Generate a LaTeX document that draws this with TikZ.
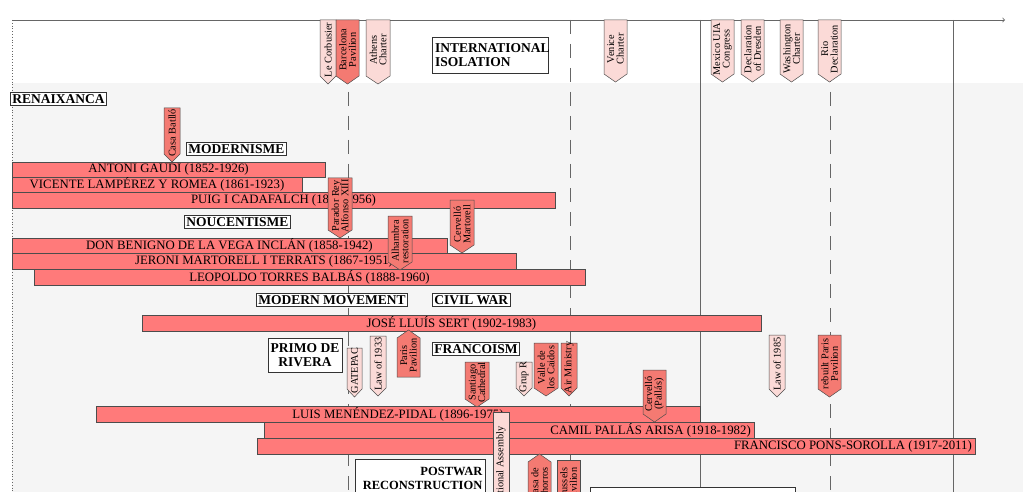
\documentclass[tikz,border=0pt]{standalone}
\usepackage{fontspec}
\setmainfont{Liberation Serif}
\begin{document}
\begin{tikzpicture}[x=1pt,y=-1pt,
  bar/.style={draw=black!70,fill=red!52!white,line width=0.5pt},
  lab/.style={draw=black!80,fill=white,font=\bfseries\fontsize{13.5}{14.5}\selectfont,inner sep=2pt,line width=0.6pt},
  ftext/.style={rotate=90,font=\fontsize{10.3}{9.5}\selectfont,align=center,inner sep=0pt},
  btext/.style={font=\fontsize{12.8}{12.8}\selectfont,inner sep=0pt}]
\definecolor{fred}{HTML}{F47A72}
\definecolor{fpink}{HTML}{FBDAD7}
\useasboundingbox (0,0) rectangle (1023,492);
\fill[white] (0,0) rectangle (1023,492);
\fill[black!4] (12,83) rectangle (1023,492);
\draw[black!60,dotted,line width=0.8pt] (12,20) -- (12,492);
\draw[black!60,line width=0.8pt,->] (12,20) -- (1005,20);
\draw[black!60,dashed,dash pattern=on 14pt off 10pt,line width=0.8pt] (348,20) -- (348,492);
\draw[black!60,dashed,dash pattern=on 14pt off 10pt,line width=0.8pt] (570,20) -- (570,492);
\draw[black!60,dashed,dash pattern=on 14pt off 10pt,line width=0.8pt] (830,20) -- (830,492);
\draw[black!60,line width=0.8pt] (700,20) -- (700,492);
\draw[black!60,line width=0.8pt] (953,20) -- (953,492);
% flags
\newcommand{\fdown}[7]{\draw[draw=black!70,fill=#6,line width=0.5pt] (#2,#4)--(#3,#4)--(#3,#5-8)--({(#2+#3)/2},#5)--(#2,#5-8)--cycle;
 \node[ftext] (#1) at ({(#2+#3)/2},{(#4+#5-4)/2}) {#7};}
\newcommand{\fup}[7]{\draw[draw=black!70,fill=#6,line width=0.5pt] (#2,#5)--(#3,#5)--(#3,#4+8)--({(#2+#3)/2},#4)--(#2,#4+8)--cycle;
 \node[ftext] (#1) at ({(#2+#3)/2},{(#4+#5+4)/2}) {#7};}
\newcommand{\frect}[7]{\draw[draw=black!70,fill=#6,line width=0.5pt] (#2,#4) rectangle (#3,#5);
 \node[ftext] (#1) at ({(#2+#3)/2},{(#4+#5)/2}) {#7};}
\newcommand{\pbar}[6]{\draw[bar] (#2,#4) rectangle (#3,#5); \node[btext] (#1) at ({(#2+#3)/2},{(#4+#5)/2}) {#6};}
\newcommand{\rbar}[6]{\draw[bar] (#2,#4) rectangle (#3,#5); \node[btext,anchor=east] (#1) at ({#3-3},{(#4+#5)/2}) {#6};}
\fdown{lc}{320}{336}{20}{84}{fpink}{Le Corbusier}
\fdown{bp}{336}{359}{20}{84}{fred}{Barcelona\\Pavilion}
\fdown{ac}{366}{390}{20}{84}{fpink}{Athens\\Charter}
\fdown{vc}{604}{627}{20}{82}{fpink}{Venice\\Charter}
\fdown{mx}{711}{734}{20}{82}{fpink}{Mexico UIA\\Congress}
\fdown{dd}{741}{764}{20}{82}{fpink}{Declaration\\of Dresden}
\fdown{wc}{780}{803}{20}{82}{fpink}{Washington\\Charter}
\fdown{rd}{818}{841}{20}{82}{fpink}{Rio\\Declaration}
\node[lab,align=left,minimum width=116pt,minimum height=36pt,text width=110pt] (ii) at (490,55) {INTERNATIONAL\\ISOLATION};
% labels
\node[lab,anchor=west] (ren) at (10,99) {RENAIXANCA};
\node[lab,anchor=west] (mod) at (186,149) {MODERNISME};
\node[lab,anchor=west] (nou) at (184,222) {NOUCENTISME};
\node[lab,anchor=west] (mm) at (256,300) {MODERN MOVEMENT};
\node[lab,anchor=west] (cw) at (432,300) {CIVIL WAR};
\node[lab,align=center,minimum width=74pt,minimum height=34pt] (pr) at (305,355) {PRIMO DE\\RIVERA};
\node[lab,anchor=west] (fr) at (432,349) {FRANCOISM};
\node[lab,align=right,anchor=north west,minimum width=130pt,text width=124pt,inner ysep=1pt,minimum height=38pt,font=\bfseries\fontsize{12.5}{13.5}\selectfont] (pw) at (355,459) {POSTWAR\\RECONSTRUCTION};
\draw[black!80,fill=white,line width=0.6pt] (590,495) -- (590,487) -- (795,487) -- (795,495);
% bars
\pbar{gaudi}{12}{325}{162}{177}{ANTONI GAUDI (1852-1926)}
\pbar{lamp}{12}{302}{177}{192}{VICENTE LAMPÉREZ Y ROMEA (1861-1923)}
\pbar{puig}{12}{555}{192}{208}{PUIG I CADAFALCH (1867-1956)}
\pbar{beni}{12}{447}{238}{253}{DON BENIGNO DE LA VEGA INCLÁN (1858-1942)}
\pbar{jer}{12}{516}{253}{269}{JERONI MARTORELL I TERRATS (1867-1951)}
\pbar{leo}{34}{585}{269}{285}{LEOPOLDO TORRES BALBÁS (1888-1960)}
\pbar{sert}{142}{761}{315}{331}{JOSÉ LLUÍS SERT (1902-1983)}
\pbar{luis}{96}{700}{406}{422}{LUIS MENÉNDEZ-PIDAL (1896-1975)}
\rbar{camil}{264}{754}{422}{438}{CAMIL PALLÁS ARISA (1918-1982)}
\rbar{fran}{257}{975}{438}{454}{FRANCISCO PONS-SOROLLA (1917-2011)}
% middle flags
\fdown{cb}{164}{180}{108}{162}{fred}{Casa Batlló}
\fdown{par}{328}{352}{178}{238}{fred}{Parador Rey\\Alfonso XIII}
\fdown{alh}{388}{412}{216}{270}{fred}{Alhambra\\restoration}
\fdown{cm}{450}{474}{200}{253}{fred}{Cervelló\\Martorell}
\fdown{gat}{347}{362}{348}{397}{fpink}{GATEPAC}
\fdown{l33}{370}{386}{336}{396}{fpink}{Law of 1933}
\fup{pp}{397}{420}{330}{377}{fred}{Paris\\Pavilion}
\fdown{sc}{465}{489}{362}{407}{fred}{Santiago\\Cathedral}
\fdown{gr}{516}{532}{362}{396}{fpink}{Grup R}
\fdown{vl}{534}{558}{343}{396}{fred}{Valle de\\los Caidos}
\fdown{am}{561}{577}{343}{396}{fred}{Air Ministry}
\fdown{cp}{643}{666}{370}{422}{fred}{Cervelló\\(Pallás)}
\fdown{l85}{769}{785}{335}{397}{fpink}{Law of 1985}
\fdown{rpp}{818}{841}{335}{397}{fred}{rebuilt Paris\\Pavilion}
\begin{scope}
\clip (0,0) rectangle (1023,492);
\frect{na}{493}{509}{412}{520}{fpink}{National Assembly}
\fup{cc}{528}{551}{454}{510}{fred}{Casa de\\Chorros}
\frect{brp}{557}{580}{460}{510}{fred}{Brussels\\Pavilion}
\end{scope}
\end{tikzpicture}
\end{document}
